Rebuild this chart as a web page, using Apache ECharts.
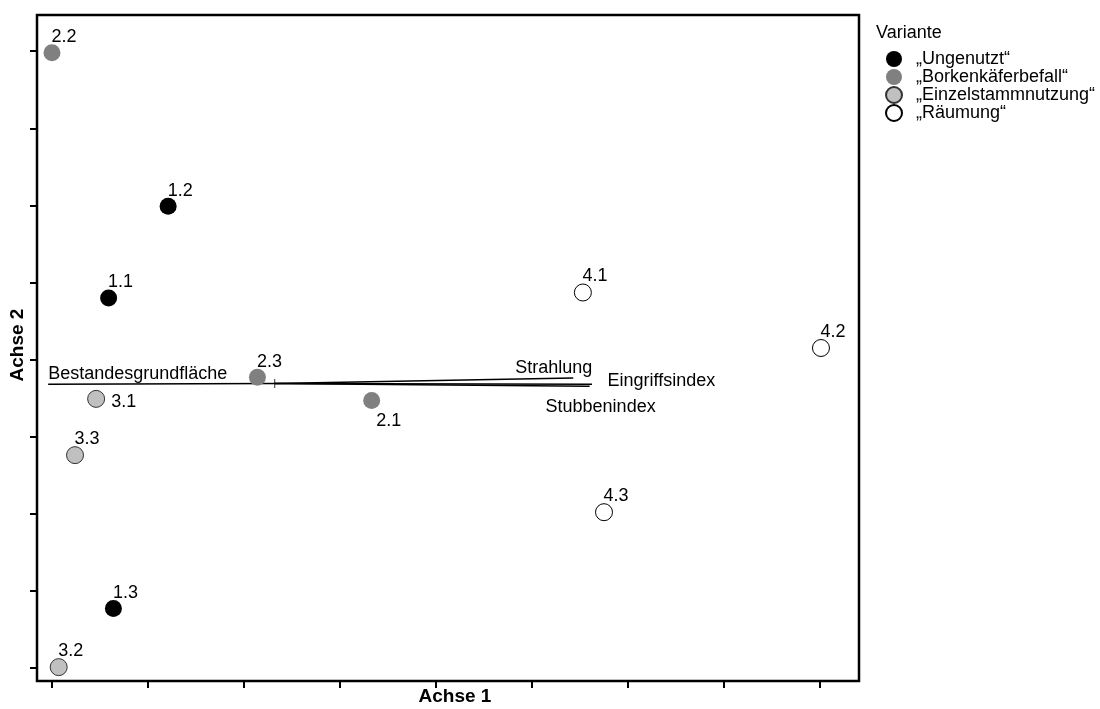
<!DOCTYPE html>
<html>
<head>
<meta charset="utf-8">
<script src="https://cdn.jsdelivr.net/npm/echarts@6/dist/echarts.min.js"></script>
<style>
  html, body { margin: 0; padding: 0; background: #fff; }
  #main { width: 1100px; height: 709px; }
</style>
</head>
<body>
<div id="main"></div>
<script>
// Variante-Gruppen (Legende)
const groups = ['„Ungenutzt“', '„Borkenkäferbefall“', '„Einzelstammnutzung“', '„Räumung“'];

// Aufnahmeflächen: [Name, Achse 1, Achse 2]
const ungenutzt = [['1.1', 0.59, 4.80], ['1.2', 1.21, 5.99], ['1.3', 0.64, 0.77]];
const borkenkaefer = [['2.1', 3.33, 3.47], ['2.2', 0.00, 7.98], ['2.3', 2.14, 3.77]];
const einzelstamm = [['3.1', 0.46, 3.49], ['3.2', 0.07, 0.01], ['3.3', 0.24, 2.76]];
const raeumung = [['4.1', 5.53, 4.87], ['4.2', 8.01, 4.15], ['4.3', 5.75, 2.02]];

// Umweltvektoren
const vectorOrigin = [2.32, 3.69];
const vectorNames = ['Bestandesgrundfläche', 'Strahlung', 'Eingriffsindex', 'Stubbenindex'];
const vectorEnds = [[-0.04, 3.68], [5.43, 3.76], [5.625, 3.68], [5.60, 3.655]];

// Achsenstriche (ohne Beschriftung)
const xTicks = [0, 1, 2, 3, 4, 5, 6, 7, 8];
const yTicks = [0, 1, 2, 3, 4, 5, 6, 7, 8];

const FONT = 'Liberation Sans, Arial, sans-serif';

const styles = [
  { color: '#000000' },
  { color: '#808080' },
  { color: '#c0c0c0', borderColor: '#333333', borderWidth: 1 },
  { color: '#ffffff', borderColor: '#000000', borderWidth: 1 }
];

function labelFor(id) {
  if (id === '3.1') return { position: 'right', distance: 6, offset: [0, 3] };
  if (id === '2.1') return { position: 'bottom', distance: 3, offset: [17, 0] };
  return { position: 'top', distance: -2, offset: [12, 0] };
}

function pointSeries(name, rows, style) {
  return {
    name: name,
    type: 'scatter',
    symbol: 'circle',
    symbolSize: 17,
    itemStyle: Object.assign({ opacity: 1 }, style),
    z: 5,
    data: rows.map(r => ({
      name: r[0],
      value: [r[1], r[2]],
      label: Object.assign({
        show: true,
        formatter: r[0],
        color: '#000',
        fontSize: 18,
        fontFamily: FONT
      }, labelFor(r[0]))
    }))
  };
}

const vectorLabels = [
  { position: 'top', align: 'left', distance: 1, offset: [0, 0] },
  { position: 'top', align: 'right', distance: 1, offset: [19, 0] },
  { position: 'right', distance: 15, offset: [0, -3] },
  { position: 'bottom', distance: 11, offset: [11, 0] }
];

const vectorSeries = vectorNames.map((n, i) => ({
  name: n,
  type: 'line',
  symbol: 'circle',
  symbolSize: 1,
  showSymbol: true,
  itemStyle: { color: 'rgba(0,0,0,0)' },
  lineStyle: { color: '#000', width: 1.5 },
  silent: true,
  z: 3,
  data: [
    { value: vectorOrigin },
    {
      value: vectorEnds[i],
      label: Object.assign({
        show: true,
        formatter: n,
        color: '#000',
        fontSize: 18,
        fontFamily: FONT
      }, vectorLabels[i])
    }
  ]
}));

const chart = echarts.init(document.getElementById('main'));
chart.setOption({
  animation: false,
  backgroundColor: '#fff',
  title: {
    text: 'Variante',
    left: 876,
    top: 24,
    padding: 0,
    textStyle: { fontSize: 18, fontWeight: 'normal', color: '#000', fontFamily: FONT }
  },
  legend: {
    data: groups,
    orient: 'vertical',
    left: 885,
    top: 50,
    padding: 0,
    itemWidth: 16,
    itemHeight: 16,
    itemGap: 0,
    textStyle: { fontSize: 18, color: '#000', fontFamily: FONT, lineHeight: 14, padding: [0, 0, 0, 9] }
  },
  grid: {
    left: 37, right: 241, top: 15, bottom: 28,
    show: true,
    borderColor: '#000',
    borderWidth: 2.5,
    backgroundColor: 'transparent'
  },
  xAxis: {
    type: 'value',
    min: -0.156,
    max: 8.406,
    axisLine: { show: false, onZero: false },
    splitLine: { show: false },
    axisLabel: { show: false },
    axisTick: { show: true, inside: false, length: 7, customValues: xTicks, lineStyle: { color: '#000', width: 2 } }
  },
  yAxis: {
    type: 'value',
    min: -0.17,
    max: 8.47,
    axisLine: { show: false, onZero: false },
    splitLine: { show: false },
    axisLabel: { show: false },
    axisTick: { show: true, inside: false, length: 7, customValues: yTicks, lineStyle: { color: '#000', width: 2 } }
  },
  graphic: [
    {
      type: 'text', x: 455, y: 697,
      style: { text: 'Achse 1', font: 'bold 19px ' + FONT, fill: '#000', align: 'center', verticalAlign: 'middle' }
    },
    {
      type: 'text', x: 18, y: 345, rotation: Math.PI / 2,
      style: { text: 'Achse 2', font: 'bold 19px ' + FONT, fill: '#000', align: 'center', verticalAlign: 'middle' }
    }
  ],
  series: [
    pointSeries(groups[0], ungenutzt, styles[0]),
    pointSeries(groups[1], borkenkaefer, styles[1]),
    pointSeries(groups[2], einzelstamm, styles[2]),
    pointSeries(groups[3], raeumung, styles[3]),
    ...vectorSeries,
    {
      name: 'Ursprung',
      type: 'scatter',
      symbol: 'rect',
      symbolSize: [1, 9],
      itemStyle: { color: '#000' },
      silent: true,
      z: 4,
      data: [vectorOrigin]
    }
  ]
});
</script>
</body>
</html>
